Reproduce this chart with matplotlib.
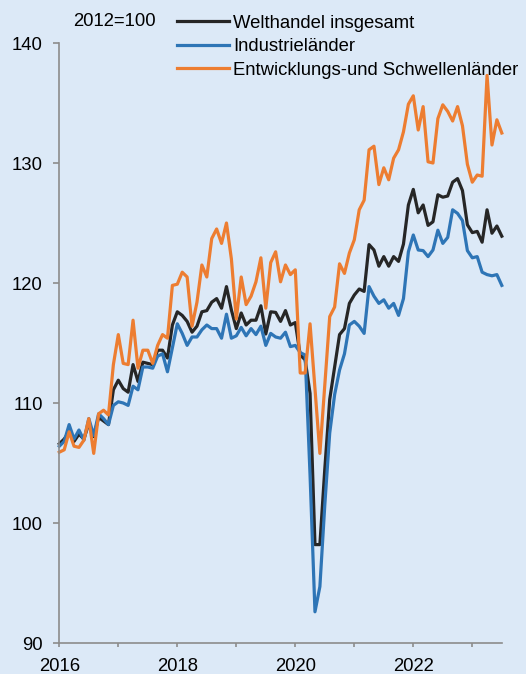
import numpy as np
import matplotlib
matplotlib.use("Agg")
import matplotlib.pyplot as plt

plt.rcParams['font.family'] = ['Liberation Sans', 'DejaVu Sans']

# monthly index values, Jan 2016 .. Jul 2023 (2012=100)
welt = [106.6, 107.0, 107.6, 106.8, 107.4, 107.0, 108.3, 107.2, 108.8, 108.5,
        108.2, 111.1, 111.9, 111.2, 110.9, 113.2, 111.8, 113.4, 113.3, 113.2,
        114.4, 114.4, 113.75, 116.5, 117.6, 117.3, 116.8, 115.9, 116.4, 117.6,
        117.7, 118.4, 118.7, 117.9, 119.7, 117.75, 116.2, 117.5, 116.5, 116.9,
        116.9, 118.1, 115.75, 117.6, 117.55, 116.8, 117.7, 116.5, 116.7, 114.0,
        113.6, 110.8, 98.2, 98.2, 104.5, 110.3, 113.0, 115.7, 116.2, 118.3,
        119.0, 119.5, 119.3, 123.2, 122.75, 121.4, 122.2, 121.4, 122.2, 121.8,
        123.25, 126.5, 127.8, 125.85, 126.5, 124.8, 125.1, 127.35, 127.15, 127.25,
        128.4, 128.7, 127.7, 124.85, 124.2, 124.3, 123.4, 126.1, 124.15, 124.75,
        123.9]
indu = [106.4, 106.8, 108.2, 107.0, 107.75, 106.9, 108.7, 107.3, 109.1, 108.7,
        108.2, 109.8, 110.1, 110.0, 109.8, 111.4, 111.1, 113.0, 113.0, 112.9,
        113.9, 114.1, 112.6, 114.6, 116.6, 115.8, 114.8, 115.5, 115.5, 116.1,
        116.5, 116.2, 116.2, 115.4, 117.4, 115.4, 115.6, 116.3, 115.6, 116.2,
        115.7, 116.4, 114.8, 115.8, 115.5, 115.4, 115.9, 114.7, 114.8, 114.2,
        114.0, 104.0, 92.6, 94.7, 101.5, 107.5, 110.7, 112.75, 114.1, 116.5,
        116.8, 116.4, 115.8, 119.7, 118.9, 118.3, 118.6, 117.9, 118.3, 117.3,
        118.7, 122.6, 124.0, 122.75, 122.7, 122.2, 122.75, 124.4, 123.3, 123.8,
        126.1, 125.8, 125.2, 122.7, 122.1, 122.2, 120.9, 120.7, 120.6, 120.7,
        119.8]
entw = [105.9, 106.1, 107.6, 106.4, 106.3, 106.9, 108.7, 105.8, 109.1, 109.4,
        109.0, 113.2, 115.7, 113.3, 113.2, 116.9, 112.9, 114.4, 114.4, 113.3,
        114.8, 115.7, 115.4, 119.8, 119.9, 120.9, 120.5, 116.4, 118.4, 121.5,
        120.5, 123.7, 124.5, 123.3, 125.0, 122.0, 117.0, 120.5, 118.2, 118.9,
        120.1, 122.1, 117.9, 121.7, 122.6, 120.1, 121.5, 120.7, 121.1, 112.5,
        112.5, 116.6, 111.2, 105.8, 111.5, 117.2, 118.0, 121.6, 120.8, 122.5,
        123.6, 126.1, 126.9, 131.1, 131.4, 128.2, 129.6, 128.6, 130.4, 131.1,
        132.6, 134.9, 135.6, 132.75, 134.7, 130.1, 130.0, 133.7, 134.85, 134.3,
        133.5, 134.7, 133.1, 129.9, 128.4, 129.0, 128.9, 137.3, 131.5, 133.6,
        132.5]
labels = ["Welthandel insgesamt", "Industrieländer",
          "Entwicklungs-und Schwellenländer"]
years = [2016, 2017, 2018, 2019, 2020, 2021, 2022, 2023]
year_labels = ["2016", "", "2018", "", "2020", "", "2022", ""]

x = 2016 + np.arange(len(welt)) / 12

bg = '#DCE9F7'
fs = 13.3
fig = plt.figure(figsize=(5.26, 6.74), dpi=100, facecolor=bg)
ax = fig.add_axes([59.3/526, 31/674, 442.5/526, 600/674], facecolor=bg)

lw = 2.3
ax.plot(x, welt, color='#262626', lw=lw, label=labels[0], clip_on=False)
ax.plot(x, indu, color='#2E75B6', lw=lw, label=labels[1], clip_on=False)
ax.plot(x, entw, color='#ED7D31', lw=lw, label=labels[2], clip_on=False)

ax.set_xlim(2016, 2016 + 90/12)
ax.set_ylim(90, 140)
ax.set_yticks([90, 100, 110, 120, 130, 140])
ax.set_xticks(years)
ax.set_xticklabels(year_labels)

for s in ['top', 'right']:
    ax.spines[s].set_visible(False)
for s in ['left', 'bottom']:
    ax.spines[s].set_color('#8C8C8C')
    ax.spines[s].set_linewidth(1.2)
ax.tick_params(axis='both', colors='#8C8C8C', labelcolor='black',
               labelsize=fs, width=1.2)
ax.tick_params(axis='y', length=4.3, pad=7.6)
ax.tick_params(axis='x', length=3, pad=8)

fig.text(73/526, 1 - 21.7/674, "2012=100", fontsize=fs, va='center')

fig.legend(loc='upper left', bbox_to_anchor=(177/526, 1 - 14.5/674),
           frameon=False, fontsize=fs, borderpad=0, borderaxespad=0,
           handlelength=2.8, handletextpad=0.25, labelspacing=0.36)

fig.savefig('out.png', dpi=100, facecolor=bg)
